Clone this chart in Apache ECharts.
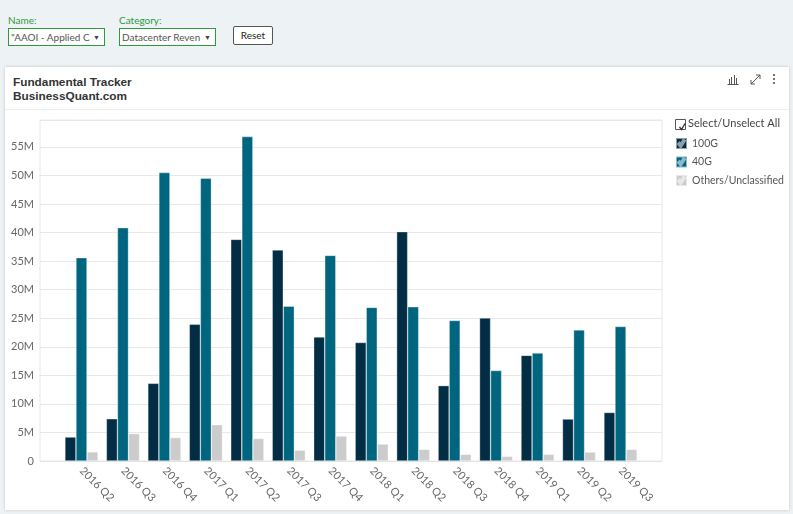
<!DOCTYPE html>
<html>
<head>
<meta charset="utf-8">
<script src="https://cdn.jsdelivr.net/npm/echarts@6/dist/echarts.min.js"></script>
<style>
  html, body { margin: 0; padding: 0; }
  body { width: 793px; height: 514px; background: #edf2f5; font-family: Lato, sans-serif; position: relative; overflow: hidden; }
  .lbl { position: absolute; top: 14px; font-size: 10px; color: #2f9a3a; }
  .sel { position: absolute; top: 28px; width: 93px; height: 16px; border: 1px solid #2f9a3a; background: #fff;
         font-size: 10px; color: #555; line-height: 16px; padding-left: 2px; box-sizing: content-box; overflow: hidden; white-space: nowrap; }
  .sel span { display: inline-block; width: 80px; overflow: hidden; }
  .sel i { position: absolute; right: 4px; top: 0; font-style: normal; font-size: 7px; color: #444; }
  .btn { position: absolute; left: 233px; top: 26px; width: 38px; height: 17px; border: 1px solid #555; border-radius: 2px;
         background: #fff; font-size: 10px; text-align: center; line-height: 17px; color: #222; }
  .card { position: absolute; left: 5px; top: 67px; width: 784px; height: 443px; background: #fff; box-shadow: 0 0 3px rgba(0,0,0,0.18); }
  .head { height: 42px; border-bottom: 1px solid #ececec; position: relative; }
  .title { position: absolute; left: 8px; top: 8px; font-family: "Liberation Sans", sans-serif; font-weight: bold; font-size: 11.8px; line-height: 14px; color: #333; }
  .icons { position: absolute; right: 10px; top: 5px; }
  #chart { position: absolute; left: 0; top: 43px; width: 784px; height: 400px; }
</style>
</head>
<body>
<div class="lbl" style="left:8px">Name:</div>
<div class="sel" style="left:8px"><span>"AAOI - Applied C</span><i>&#9660;</i></div>
<div class="lbl" style="left:119px">Category:</div>
<div class="sel" style="left:119px"><span>Datacenter Reven</span><i>&#9660;</i></div>
<div class="btn">Reset</div>

<div class="card">
  <div class="head">
    <div class="title">Fundamental Tracker<br>BusinessQuant.com</div>
    <svg class="icons" width="52" height="14" viewBox="0 0 52 14">
      <g fill="none" stroke="#555" stroke-width="1">
        <path d="M0.5 12.5H11.5"/>
        <path d="M2.5 12V7M4.5 12V5M7.5 12V3M9.5 12V6"/>
        <path d="M24 12L33 3M29 3H33V7M24 8V12H28"/>
      </g>
      <g fill="#555"><circle cx="47" cy="3" r="1.1"/><circle cx="47" cy="7" r="1.1"/><circle cx="47" cy="11" r="1.1"/></g>
    </svg>
  </div>
  <div id="chart"></div>
</div>

<script>
var quarters = ['2016 Q2', '2016 Q3', '2016 Q4', '2017 Q1', '2017 Q2', '2017 Q3', '2017 Q4',
                '2018 Q1', '2018 Q2', '2018 Q3', '2018 Q4', '2019 Q1', '2019 Q2', '2019 Q3'];
var names = ['100G', '40G', 'Others/Unclassified'];
var colors = ['#022d44', '#006680', '#cccccc'];
var rev100G = [4.2, 7.4, 13.6, 23.95, 38.8, 36.95, 21.7, 20.75, 40.15, 13.2, 25.05, 18.5, 7.35, 8.5];
var rev40G = [35.6, 40.85, 50.5, 49.5, 56.8, 27.1, 36.0, 26.9, 27.0, 24.6, 15.85, 18.9, 22.95, 23.55];
var revOthers = [1.6, 4.8, 4.1, 6.35, 3.95, 1.9, 4.37, 2.97, 2.04, 1.17, 0.82, 1.17, 1.57, 2.04];
var yMax = 59.7e6;

function toDollars(arr) {
    return arr.map(function (v) { return Math.round(v * 1e6); });
}

var chart = echarts.init(document.getElementById('chart'));

// white check cut out of a filled square
var checkIcon = 'path://M0,0L10,0L10,10L0,10Z M1.8,5.4L3.2,4.2L4.2,5.8L6.6,1.6L8.2,2.6L4.3,8.6Z';

var seriesList = [];
var dataSets = [rev100G, rev40G, revOthers];
for (var i = 0; i < names.length; i++) {
    seriesList.push({
        name: names[i],
        type: 'bar',
        xAxisIndex: 0,
        yAxisIndex: 0,
        barGap: '0%',
        barCategoryGap: '20%',
        itemStyle: {
            color: colors[i],
            borderColor: 'rgba(255,255,255,0.55)',
            borderWidth: 0.6
        },
        data: toDollars(dataSets[i])
    });
}

var option = {
    animation: false,
    textStyle: { fontFamily: 'Lato' },
    grid: [
        { left: 55.75, right: 147.75, top: 10, bottom: 49 },
        { left: 35, right: 127, top: 10, bottom: 49, show: true, borderColor: '#e8e8e8', borderWidth: 1 }
    ],
    xAxis: [
        {
            type: 'category',
            gridIndex: 0,
            data: quarters,
            axisLine: { show: false },
            axisTick: { show: false },
            axisLabel: { rotate: -45, color: '#666', fontSize: 11, margin: 8, interval: 0 }
        },
        {
            type: 'value',
            gridIndex: 1,
            min: 0,
            max: 1,
            axisLine: { show: true, lineStyle: { color: '#e3e3e3' } },
            axisTick: { show: false },
            axisLabel: { show: false },
            splitLine: { show: false }
        }
    ],
    yAxis: [
        { type: 'value', gridIndex: 0, min: 0, max: yMax, show: false, splitLine: { show: false } },
        {
            type: 'value',
            gridIndex: 1,
            min: 0,
            max: yMax,
            interval: 5e6,
            axisLine: { show: false },
            axisTick: { show: false },
            splitLine: { lineStyle: { color: '#e8e8e8' } },
            axisLabel: {
                color: '#666',
                fontSize: 11,
                margin: 6,
                formatter: function (v) {
                    if (v % 5e6 !== 0) return '';
                    return v === 0 ? '0' : (v / 1e6) + 'M';
                }
            }
        }
    ],
    legend: {
        orient: 'vertical',
        left: 670,
        top: 27,
        padding: 0,
        itemWidth: 11,
        itemHeight: 11,
        itemGap: 5.5,
        icon: checkIcon,
        textStyle: { color: '#555', fontSize: 10.5 },
        data: names
    },
    graphic: [
        {
            type: 'rect',
            left: 670,
            top: 9,
            shape: { width: 10, height: 10 },
            style: { fill: '#fff', stroke: '#555', lineWidth: 1 }
        },
        {
            type: 'polyline',
            left: 672,
            top: 11,
            shape: { points: [[0, 3.5], [2, 6], [5.5, 0]] },
            style: { fill: null, stroke: '#333', lineWidth: 1.3 }
        },
        {
            type: 'text',
            left: 683,
            top: 8,
            style: { text: 'Select/Unselect All', fill: '#444', font: '11px Lato' }
        }
    ],
    series: seriesList
};
chart.setOption(option);
window.onresize = chart.resize;
</script>
</body>
</html>
